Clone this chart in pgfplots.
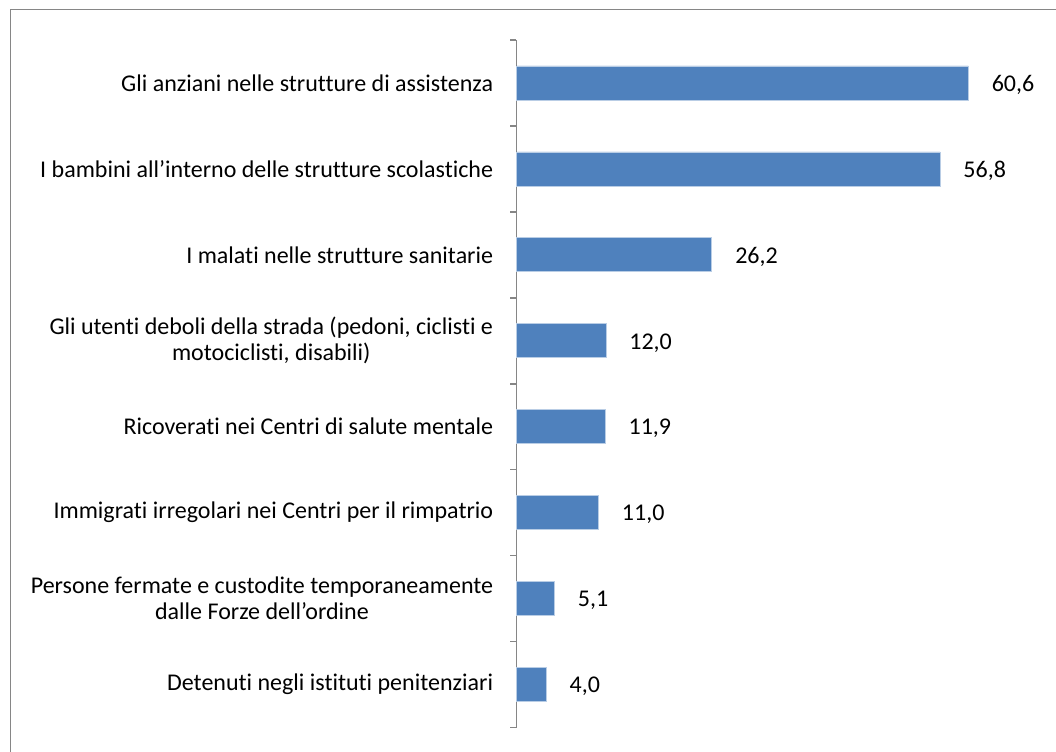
\documentclass[border=0pt]{standalone}
\usepackage{pgfplots}
\pgfplotsset{compat=1.18}
\usepackage{fontspec}
\setmainfont[Ligatures=NoCommon]{Carlito}
\definecolor{barblue}{RGB}{79,129,189}
\definecolor{baredge}{RGB}{185,205,229}
\definecolor{axgray}{RGB}{134,134,134}
\begin{document}
\begin{tikzpicture}[font=\fontsize{12}{13}\selectfont]
\begin{axis}[
  scale only axis, width=261pt, height=343.75pt,
  xbar, bar width=17pt,
  xmin=0, xmax=70,
  ymin=-0.5, ymax=7.5, y dir=reverse,
  axis x line=none,
  axis y line*=left,
  y axis line style={-, axgray, line width=0.75pt},
  xtick=\empty,
  ytick={0,...,7},
  yticklabels={
    {Gli anziani nelle strutture di assistenza},
    {I bambini all’interno delle strutture scolastiche},
    {I malati nelle strutture sanitarie},
    {Gli utenti deboli della strada (pedoni, ciclisti e\\motociclisti, disabili)},
    {Ricoverati nei Centri di salute mentale},
    {Immigrati irregolari nei Centri per il rimpatrio},
    {Persone fermate e custodite temporaneamente\\dalle Forze dell’ordine},
    {Detenuti negli istituti penitenziari}},
  yticklabel style={align=center, inner sep=0pt, xshift=-11.5pt},
  major tick length=0pt,
  minor ytick={-0.5,0.5,...,7.5},
  minor tick length=3pt,
  tick align=outside,
  tick style={axgray, line width=0.75pt},
  point meta=x,
  nodes near coords={\pgfmathprintnumber[fixed,fixed zerofill,precision=1,use comma,assume math mode=true]{\pgfplotspointmeta}},
  nodes near coords style={anchor=west, inner sep=0pt, xshift=11.5pt, yshift=-1pt, black},
  clip=false,
]
\addplot[fill=barblue, draw=baredge, line width=0.4pt] coordinates {
  (60.6,0) (56.8,1) (26.2,2) (12.0,3) (11.9,4) (11.0,5) (5.1,6) (4.0,7)
};
\coordinate (bl) at (rel axis cs:0,0);
\end{axis}
\draw[axgray, line width=0.75pt] (bl) ++(-253pt,-50pt) -- ++(0,409pt) -- ++(600pt,0);
\pgfresetboundingbox
\path[use as bounding box] (bl) ++(-258.25pt,-11.75pt) rectangle ++(528pt,375.5pt);
\end{tikzpicture}
\end{document}
